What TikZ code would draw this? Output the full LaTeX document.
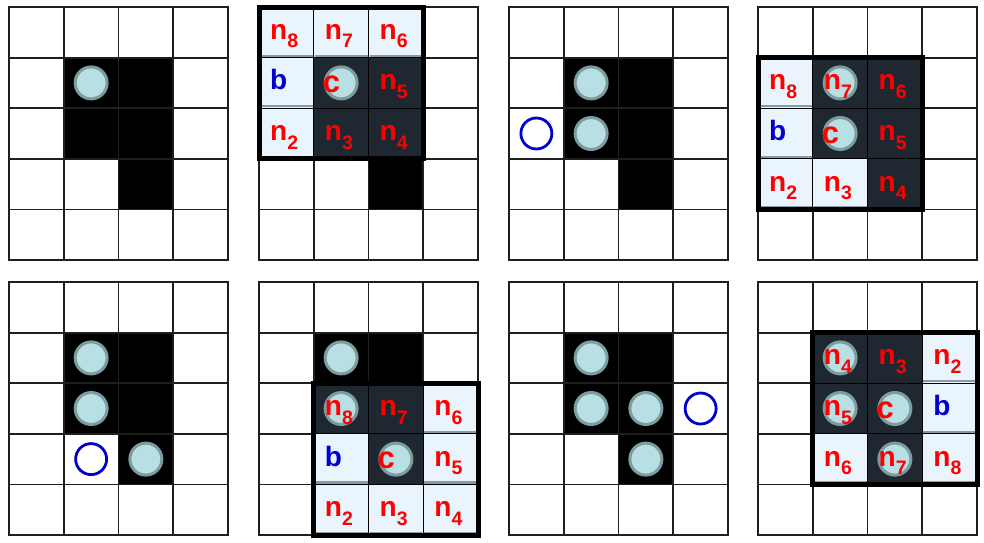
\documentclass[tikz,border=0pt]{standalone}
\usepackage{fontspec}
\setmainfont{Liberation Sans}
\definecolor{lightc}{HTML}{EAF4FD}
\definecolor{darkc}{HTML}{1F2731}
\definecolor{shadowc}{HTML}{8A99A6}
\definecolor{discfill}{HTML}{B8DFE3}
\definecolor{discedge}{HTML}{7C9C9E}
\definecolor{ringc}{HTML}{0000CC}
\definecolor{labred}{HTML}{FF0000}
\definecolor{labblue}{HTML}{0000CC}
\def\cellw{54.75}
\def\cellh{50.6}
\newcommand{\basegrid}{%
  \foreach \ci/\ri in {1/1,2/1,1/2,2/2,2/3}{\fill[black] (\ci*\cellw,\ri*\cellh) rectangle ++(\cellw,\cellh);}
  \foreach \ii in {0,...,4}{\draw[gridline] (\ii*\cellw,0) -- (\ii*\cellw,5*\cellh);}
  \foreach \jj in {0,...,5}{\draw[gridline] (0,\jj*\cellh) -- (4*\cellw,\jj*\cellh);}
}
\newcommand{\disc}[3]{\node[disc] (#1) at ({(#2+0.5)*\cellw},{(#3+0.5)*\cellh}) {};}
\newcommand{\ring}[3]{\node[ringnode] (#1) at ({(#2+0.5)*\cellw},{(#3+0.5)*\cellh}) {};}
\newcommand{\lcell}[2]{\fill[lightc] (#1*\cellw,#2*\cellh) rectangle ++(\cellw,\cellh);
  \draw[shadowc, line width=2.2pt] ({#1*\cellw+1},{(#2+1)*\cellh-2}) -- ++({\cellw-2},0);}
\newcommand{\dcell}[2]{\fill[darkc] (#1*\cellw,#2*\cellh) rectangle ++(\cellw,\cellh);}
\newcommand{\wframe}[2]{%
  \foreach \kk in {1,2}{%
    \draw[sepline] ({(#1+\kk)*\cellw},{#2*\cellh}) -- ++(0,{3*\cellh});
    \draw[sepline] ({#1*\cellw},{(#2+\kk)*\cellh}) -- ++({3*\cellw},0);}
  \draw[wframeline] ({#1*\cellw},{#2*\cellh}) rectangle ++({3*\cellw},{3*\cellh});}
\newcommand{\nlab}[4]{\node[lab,text=labred] (#1) at ({#2*\cellw+11},{(#3+0.5)*\cellh+7}) {n\raisebox{-8.5pt}{\fontsize{19.5}{19.5}\selectfont #4}};}
\newcommand{\blab}[3]{\node[lab,text=labblue] (#1) at ({#2*\cellw+11},{(#3+0.5)*\cellh+7}) {b};}
\newcommand{\clab}[3]{\node[lab,text=labred,font=\bfseries\fontsize{31}{31}\selectfont] (#1) at ({#2*\cellw+9},{(#3+0.5)*\cellh+9.5}) {c};}
\begin{document}
\begin{tikzpicture}[x=1pt,y=-1pt,
  gridline/.style={draw=black!88,line width=1.8pt,line cap=rect},
  sepline/.style={draw=black,line width=1.2pt},
  wframeline/.style={draw=black,line width=5pt,line join=miter},
  disc/.style={circle,minimum size=32pt,inner sep=0pt,fill=discfill,draw=discedge,line width=3pt},
  ringnode/.style={circle,minimum size=31pt,inner sep=0pt,draw=ringc,line width=2.8pt},
  lab/.style={inner sep=0pt,anchor=base west,font=\bfseries\fontsize{28}{28}\selectfont}]
\useasboundingbox (0,0) rectangle (984,542);
\fill[white] (0,0) rectangle (984,542);
% Panel 1
\begin{scope}[shift={(9,7)}]
  \basegrid
  \disc{pa1}{1}{1}
\end{scope}
% Panel 2
\begin{scope}[shift={(259,7)}]
  \basegrid
  \lcell{0}{0}\lcell{1}{0}\lcell{2}{0}
  \lcell{0}{1}\dcell{1}{1}\dcell{2}{1}
  \lcell{0}{2}\dcell{1}{2}\dcell{2}{2}
  \wframe{0}{0}
  \disc{pb1}{1}{1}
  \nlab{pbn8}{0}{0}{8}\nlab{pbn7}{1}{0}{7}\nlab{pbn6}{2}{0}{6}
  \blab{pbb}{0}{1}\clab{pbc}{1}{1}\nlab{pbn5}{2}{1}{5}
  \nlab{pbn2}{0}{2}{2}\nlab{pbn3}{1}{2}{3}\nlab{pbn4}{2}{2}{4}
\end{scope}
% Panel 3
\begin{scope}[shift={(509,7)}]
  \basegrid
  \disc{pc1}{1}{1}\disc{pc2}{1}{2}
  \ring{pcr}{0}{2}
\end{scope}
% Panel 4
\begin{scope}[shift={(758,7)}]
  \basegrid
  \lcell{0}{1}\dcell{1}{1}\dcell{2}{1}
  \lcell{0}{2}\dcell{1}{2}\dcell{2}{2}
  \lcell{0}{3}\lcell{1}{3}\dcell{2}{3}
  \wframe{0}{1}
  \disc{pd1}{1}{1}\disc{pd2}{1}{2}
  \nlab{pdn8}{0}{1}{8}\nlab{pdn7}{1}{1}{7}\nlab{pdn6}{2}{1}{6}
  \blab{pdb}{0}{2}\clab{pdc}{1}{2}\nlab{pdn5}{2}{2}{5}
  \nlab{pdn2}{0}{3}{2}\nlab{pdn3}{1}{3}{3}\nlab{pdn4}{2}{3}{4}
\end{scope}
% Panel 5
\begin{scope}[shift={(9,282)}]
  \basegrid
  \disc{pe1}{1}{1}\disc{pe2}{1}{2}\disc{pe3}{2}{3}
  \ring{per}{1}{3}
\end{scope}
% Panel 6
\begin{scope}[shift={(259,282)}]
  \basegrid
  \dcell{1}{2}\dcell{2}{2}\lcell{3}{2}
  \lcell{1}{3}\dcell{2}{3}\lcell{3}{3}
  \lcell{1}{4}\lcell{2}{4}\lcell{3}{4}
  \wframe{1}{2}
  \disc{pf1}{1}{1}\disc{pf2}{1}{2}\disc{pf3}{2}{3}
  \nlab{pfn8}{1}{2}{8}\nlab{pfn7}{2}{2}{7}\nlab{pfn6}{3}{2}{6}
  \blab{pfb}{1}{3}\clab{pfc}{2}{3}\nlab{pfn5}{3}{3}{5}
  \nlab{pfn2}{1}{4}{2}\nlab{pfn3}{2}{4}{3}\nlab{pfn4}{3}{4}{4}
\end{scope}
% Panel 7
\begin{scope}[shift={(509,282)}]
  \basegrid
  \disc{pg1}{1}{1}\disc{pg2}{1}{2}\disc{pg3}{2}{2}\disc{pg4}{2}{3}
  \ring{pgr}{3}{2}
\end{scope}
% Panel 8
\begin{scope}[shift={(758,282)}]
  \basegrid
  \dcell{1}{1}\dcell{2}{1}\lcell{3}{1}
  \dcell{1}{2}\dcell{2}{2}\lcell{3}{2}
  \lcell{1}{3}\dcell{2}{3}\lcell{3}{3}
  \wframe{1}{1}
  \disc{ph1}{1}{1}\disc{ph2}{1}{2}\disc{ph3}{2}{2}\disc{ph4}{2}{3}
  \nlab{phn4}{1}{1}{4}\nlab{phn3}{2}{1}{3}\nlab{phn2}{3}{1}{2}
  \nlab{phn5}{1}{2}{5}\clab{phc}{2}{2}\blab{phb}{3}{2}
  \nlab{phn6}{1}{3}{6}\nlab{phn7}{2}{3}{7}\nlab{phn8}{3}{3}{8}
\end{scope}
\end{tikzpicture}
\end{document}
